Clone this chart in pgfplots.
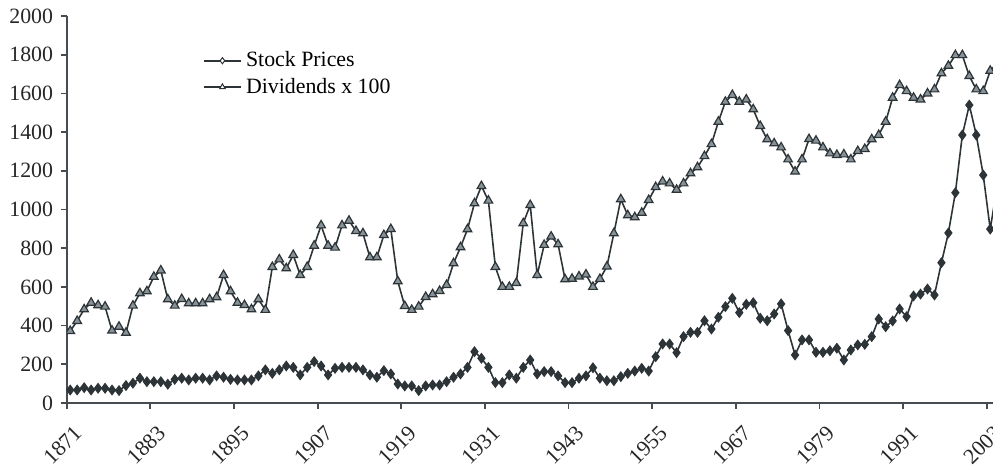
\documentclass[border=0pt]{standalone}
\usepackage{fontspec}
\setmainfont{Liberation Serif}
\usepackage{pgfplots}
\pgfplotsset{compat=1.18}
\usepackage{pgfplotstable}
\definecolor{dk}{RGB}{45,52,55}
\definecolor{tri}{RGB}{135,146,152}
\definecolor{axc}{RGB}{70,76,79}

\pgfplotstableread{
year stock div
1871 67 372
1872 67 424
1873 79 484
1874 67 518
1875 76 505
1876 76 498
1877 67 374
1878 64 394
1879 90 363
1880 102 503
1881 128 567
1882 110 577
1883 110 652
1884 110 685
1885 97 536
1886 122 503
1887 128 537
1888 119 515
1889 128 515
1890 128 515
1891 119 536
1892 140 546
1893 133 661
1894 122 577
1895 119 518
1896 119 506
1897 119 484
1898 140 536
1899 171 481
1900 153 703
1901 171 742
1902 191 696
1903 184 765
1904 145 661
1905 184 703
1906 214 813
1907 191 918
1908 145 813
1909 179 803
1910 184 918
1911 184 942
1912 184 889
1913 171 877
1914 145 753
1915 133 753
1916 167 868
1917 150 899
1918 98 629
1919 88 501
1920 88 481
1921 64 498
1922 88 548
1923 93 562
1924 93 579
1925 110 610
1926 133 722
1927 150 805
1928 184 898
1929 265 1032
1930 231 1121
1931 184 1046
1932 105 703
1933 105 600
1934 145 600
1935 128 620
1936 184 929
1937 222 1023
1938 150 661
1939 162 817
1940 162 860
1941 140 820
1942 105 639
1943 105 642
1944 128 654
1945 140 664
1946 182 600
1947 128 641
1948 115 705
1949 115 877
1950 136 1053
1951 153 970
1952 165 960
1953 179 983
1954 165 1049
1955 239 1116
1956 305 1145
1957 305 1135
1958 260 1102
1959 343 1135
1960 365 1187
1961 365 1218
1962 425 1276
1963 382 1338
1964 443 1454
1965 498 1557
1966 541 1592
1967 467 1557
1968 510 1569
1969 518 1518
1970 438 1432
1971 425 1363
1972 460 1342
1973 512 1321
1974 374 1259
1975 248 1196
1976 326 1259
1977 326 1364
1978 262 1356
1979 262 1321
1980 270 1290
1981 283 1282
1982 222 1285
1983 274 1259
1984 300 1302
1985 303 1313
1986 343 1363
1987 434 1385
1988 394 1454
1989 424 1578
1990 486 1643
1991 446 1612
1992 553 1578
1993 563 1569
1994 589 1600
1995 558 1621
1996 725 1704
1997 879 1743
1998 1087 1798
1999 1385 1798
2000 1540 1690
2001 1385 1621
2002 1178 1612
2003 899 1717
2004 1120 1757
}\data

\begin{document}
\fontsize{11pt}{13.6pt}\selectfont
\begin{tikzpicture}
\useasboundingbox (-33.6pt,-31.7pt) rectangle (466.4pt,202.9pt);
\begin{axis}[
  at={(0,0)}, anchor=south west,
  scale only axis, width=466.4pt, height=194.8pt,
  xmin=1871, xmax=2003.9, ymin=0, ymax=2000,
  axis x line*=bottom, axis y line*=left,
  axis line style={axc, line width=1pt},
  tick align=outside, major tick length=3pt,
  tick style={axc, line width=0.9pt},
  xtick={1871,1883,...,2003},
  ytick={0,200,...,2000},
  /pgf/number format/1000 sep={},
  /pgf/number format/assume math mode=true,
  tick label style={font=\fontsize{11pt}{13.6pt}\selectfont, text=black!85},
  xticklabel style={xshift=3pt, yshift=-7.5pt, rotate=45, anchor=north east, inner sep=0pt},
  clip marker paths=true,
  legend style={at={(0.14,0.93)}, anchor=north west, draw=none, fill=none,
    font=\fontsize{11pt}{13.6pt}\selectfont, row sep=0pt},
  legend cell align=left,
  legend image code/.code={\draw[mark repeat=2,mark phase=2,#1] plot coordinates {(0pt,0pt) (9.5pt,0pt) (19pt,0pt)};},
  legend image post style={mark options={fill=white, draw=dk, line width=0.5pt, scale=0.65}},
]
\addplot[dk, line width=0.8pt, mark=diamond*, mark size=2.4pt,
  mark options={fill=dk, draw=dk, line width=0.5pt}]
  table[x expr=\thisrow{year}+0.5, y=stock] {\data};
\addlegendentry{Stock Prices}
\addplot[dk, line width=0.8pt, mark=triangle*, mark size=2.5pt,
  mark options={fill=tri, draw=dk, line width=0.6pt}]
  table[x expr=\thisrow{year}+0.5, y=div] {\data};
\addlegendentry{Dividends x 100}
\end{axis}
\end{tikzpicture}
\end{document}
